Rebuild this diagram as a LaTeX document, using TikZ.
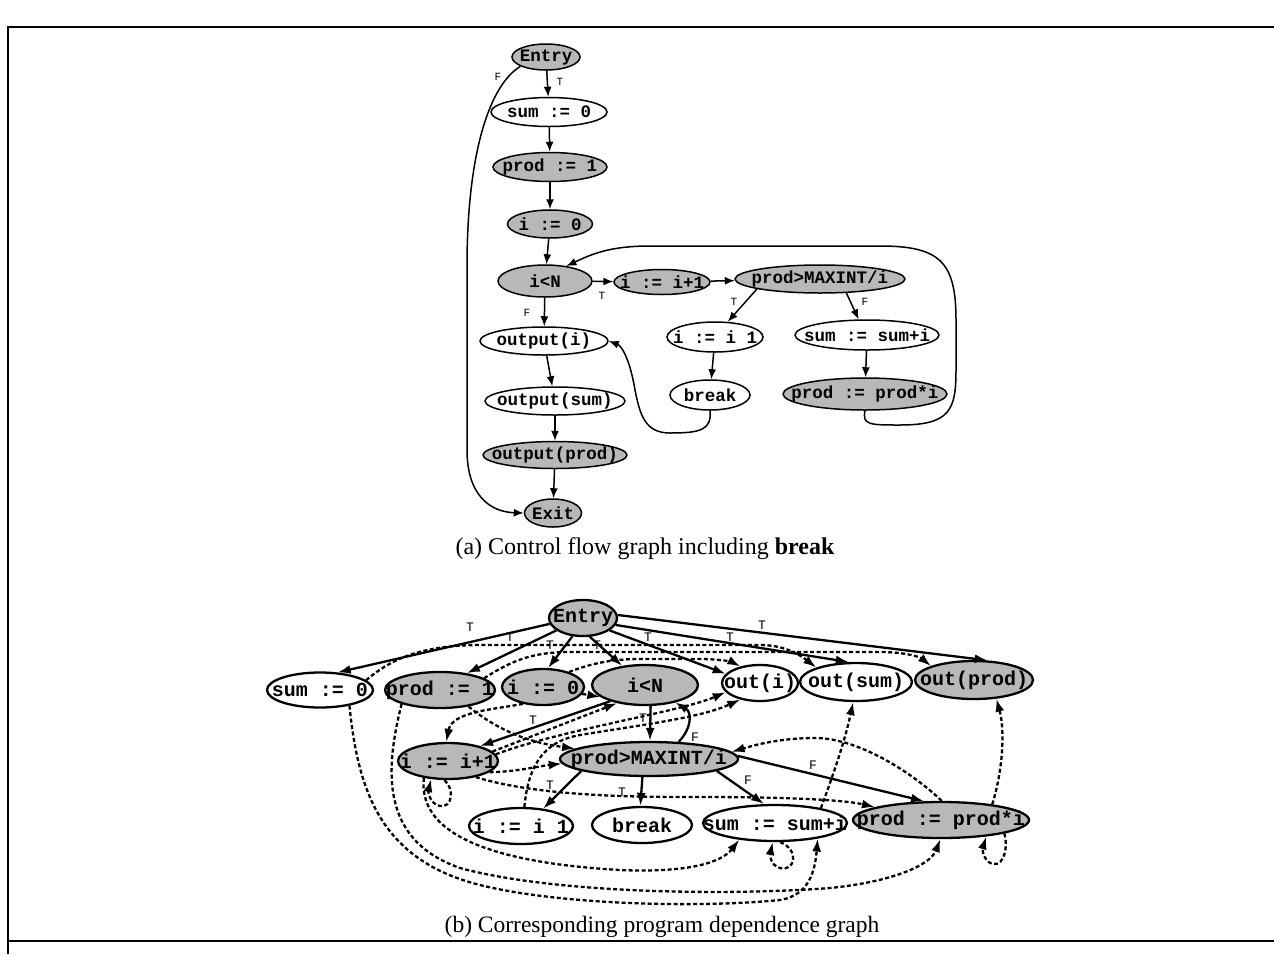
\documentclass[tikz,border=0pt]{standalone}
\usepackage{fontspec}
\setmainfont{Liberation Serif}
\newfontfamily\monofam{Liberation Mono}
\usetikzlibrary{shapes.geometric,arrows.meta}
\newcommand{\ntext}[1]{\makebox[0pt]{#1}}
\begin{document}
\begin{tikzpicture}[x=1pt,y=-1pt,
  anode/.style={ellipse, draw, line width=1.5pt, inner sep=0pt, font=\monofam\bfseries\fontsize{17.5}{20}\selectfont},
  bnode/.style={ellipse, draw, line width=2.3pt, inner sep=0pt, font=\monofam\bfseries\fontsize{20}{24}\selectfont},
  shaded/.style={fill=black!28},
  aedge/.style={line width=1.5pt, -{Latex[length=10pt,width=8pt]}},
  bedge/.style={line width=2.3pt, -{Latex[length=13pt,width=9pt]}},
  bdep/.style={line width=2.3pt, dash pattern=on 4pt off 2.5pt, -{Latex[length=13pt,width=9pt]}},
  alab/.style={font=\monofam\fontsize{11}{12}\selectfont, inner sep=1pt},
  blab/.style={font=\monofam\fontsize{13}{14}\selectfont, inner sep=1pt},
  captext/.style={inner sep=0pt}]
\useasboundingbox (0,0) rectangle (1274,954);
% frame
\draw[line width=2pt] (8,954) -- (8,27) -- (1274,27);
\draw[line width=2pt] (8,941) -- (1274,941);

% ---------------- (a) control flow graph ----------------
\node[anode, shaded, minimum width=68pt, minimum height=26pt] (aentry) at (546,57) {\ntext{Entry}};
\node[anode, minimum width=116pt, minimum height=29pt] (asum) at (549,112) {\ntext{sum := 0}};
\node[anode, shaded, minimum width=114pt, minimum height=29pt] (aprod) at (550,167) {\ntext{prod := 1}};
\node[anode, shaded, minimum width=85pt, minimum height=28pt] (ai0) at (550,224) {\ntext{i := 0}};
\node[anode, shaded, minimum width=94pt, minimum height=32pt] (aiN) at (545,281) {\ntext{i<N}};
\node[anode, shaded, minimum width=96pt, minimum height=25pt] (ainc) at (662,282) {\ntext{i := i+1}};
\node[anode, shaded, minimum width=170pt, minimum height=28pt] (apm) at (820,279) {\ntext{prod>MAXINT/i}};
\node[anode, minimum width=96pt, minimum height=30pt] (aii1) at (715,337) {\ntext{i := i 1}};
\node[anode, minimum width=144pt, minimum height=30pt] (asumi) at (867,335) {\ntext{sum := sum+i}};
\node[anode, minimum width=80pt, minimum height=30pt] (abreak) at (710,395) {\ntext{break}};
\node[anode, shaded, minimum width=164pt, minimum height=32pt] (aprodi) at (865,394) {\ntext{prod := prod*i}};
\node[anode, minimum width=128pt, minimum height=28pt] (aout) at (544,341) {\ntext{output(i)}};
\node[anode, minimum width=140pt, minimum height=28pt] (aoutsum) at (555,401) {\ntext{output(sum)}};
\node[anode, shaded, minimum width=144pt, minimum height=27pt] (aoutprod) at (555,455) {\ntext{output(prod)}};
\node[anode, shaded, minimum width=57pt, minimum height=28pt] (aexit) at (553,513) {\ntext{Exit}};

\draw[aedge] (aentry) -- (asum);
\draw[aedge] (asum) -- (aprod);
\draw[aedge] (aprod) -- (ai0);
\draw[aedge] (ai0) -- (aiN);
\draw[aedge] (aiN) -- (aout);
\draw[aedge] (aiN) -- (ainc);
\draw[aedge] (ainc) -- (apm);
\draw[aedge] (apm.189) -- (aii1.50);
\draw[aedge] (apm.-28) -- (asumi.118);
\draw[aedge] (aii1) -- (abreak);
\draw[aedge] (asumi) -- (aprodi);
\draw[aedge] (aout) -- (aoutsum);
\draw[aedge] (aoutsum) -- (aoutprod);
\draw[aedge] (aoutprod) -- (aexit);
\draw[aedge] (aentry.200) .. controls (490,85) and (468,150) .. (467,260) -- (467,450) .. controls (467,495) and (490,512) .. (aexit.west);
\draw[aedge] (abreak.south) .. controls (712,430) and (700,433) .. (670,433) .. controls (645,433) and (640,415) .. (635,390) .. controls (630,360) and (622,346) .. (aout.east);
\draw[aedge] (aprodi.south) .. controls (862,425) and (870,425) .. (900,425) .. controls (950,425) and (956,410) .. (956,370) -- (956,320) .. controls (956,262) and (940,246) .. (880,246) -- (650,246) .. controls (610,246) and (592,254) .. (aiN.35);

\node[alab] (laT1) at (560,82) {T};
\node[alab] (laF1) at (498,77) {F};
\node[alab] (laT2) at (602,296) {T};
\node[alab] (laF2) at (527,313) {F};
\node[alab] (laT3) at (734,302) {T};
\node[alab] (laF3) at (865,302) {F};

\node[captext, font=\fontsize{24}{28}\selectfont] (capa) at (645,549) {(a) Control flow graph including \textbf{break}};

% ---------------- (b) program dependence graph ----------------
\node[bnode, shaded, minimum width=68pt, minimum height=36pt] (bentry) at (583,618) {\ntext{Entry}};
\node[bnode, minimum width=106pt, minimum height=35pt] (bsum0) at (320,690) {\ntext{sum := 0}};
\node[bnode, shaded, minimum width=110pt, minimum height=36pt] (bprod1) at (440,690) {\ntext{prod := 1}};
\node[bnode, shaded, minimum width=82pt, minimum height=36pt] (bi0) at (543,687) {\ntext{i := 0}};
\node[bnode, shaded, minimum width=106pt, minimum height=40pt] (biN) at (645,685) {\ntext{i<N}};
\node[bnode, minimum width=76pt, minimum height=36pt] (bouti) at (760,683) {\ntext{out(i)}};
\node[bnode, minimum width=112pt, minimum height=38pt] (boutsum) at (856,682) {\ntext{out(sum)}};
\node[bnode, shaded, minimum width=118pt, minimum height=38pt] (boutprod) at (974,680) {\ntext{out(prod)}};
\node[bnode, shaded, minimum width=100pt, minimum height=36pt] (binc) at (448,761) {\ntext{i := i+1}};
\node[bnode, shaded, minimum width=178pt, minimum height=34pt] (bpm) at (649,759) {\ntext{prod>MAXINT/i}};
\node[bnode, minimum width=104pt, minimum height=36pt] (bii1) at (521,826) {\ntext{i := i 1}};
\node[bnode, minimum width=100pt, minimum height=36pt] (bbreak) at (642,825) {\ntext{break}};
\node[bnode, minimum width=144pt, minimum height=36pt] (bsumi) at (775,823) {\ntext{sum := sum+i}};
\node[bnode, shaded, minimum width=176pt, minimum height=36pt] (bprodi) at (941,820) {\ntext{prod := prod*i}};

% control dependences
\draw[bedge] (bentry.190) -- (bsum0.45);
\draw[bedge] (bentry.205) -- (bprod1.32);
\draw[bedge] (bentry.240) -- (bi0.75);
\draw[bedge] (bentry.-70) -- (biN.140);
\draw[bedge] (bentry.-25) -- (bouti.165);
\draw[bedge] (bentry.-12) -- (boutsum.110);
\draw[bedge] (bentry.5) -- (boutprod.55);
\draw[bedge] (biN.205) -- (binc.25);
\draw[bedge] (biN.-75) -- (bpm.87);
\draw[bedge] (bpm.30) .. controls (692,728) and (692,712) .. (biN.-30);
\draw[bedge] (bpm.190) -- (bii1.38);
\draw[bedge] (bpm.-110) -- (bbreak.95);
\draw[bedge] (bpm.-10) -- (bsumi.120);
\draw[bedge] (bpm.2) -- (bprodi.132);

% data dependences
\draw[bdep] (bsum0.12) .. controls (390,660) and (420,645) .. (480,645) -- (760,645) .. controls (785,645) and (800,655) .. (boutsum.160);
\draw[bdep] (bprod1.15) .. controls (510,662) and (530,652) .. (570,652) -- (880,652) .. controls (905,652) and (920,657) .. (boutprod.162);
\draw[bdep] (bi0.30) .. controls (590,664) and (610,659) .. (640,659) -- (700,659) .. controls (720,659) and (732,662) .. (bouti.140);
\draw[bdep] (bi0.-10) -- (biN.195);
\draw[bdep] (bi0.220) .. controls (490,710) and (452,712) .. (binc.95);
\draw[bdep] (binc.12) -- (biN.213);
\draw[bdep] (binc.8) .. controls (560,730) and (680,712) .. (bouti.-165);
\draw[bdep] (bii1.80) .. controls (528,770) and (540,742) .. (580,735) .. controls (640,725) and (700,718) .. (bouti.-140);
\draw[bdep] (binc.-15) .. controls (515,772) and (540,766) .. (bpm.183);
\draw[bdep] (binc.-30) .. controls (540,797) and (640,797) .. (700,797) .. controls (790,797) and (845,800) .. (bprodi.169);
\draw[bdep] (binc.-145) .. controls (418,830) and (480,862) .. (620,870) .. controls (690,873) and (722,862) .. (bsumi.-155);
\draw[bdep] (bsum0.-28) .. controls (358,790) and (380,860) .. (480,885) .. controls (560,905) and (700,908) .. (780,900) .. controls (810,895) and (815,870) .. (bsumi.-20);
\draw[bdep] (bprod1.-160) .. controls (385,770) and (380,840) .. (460,868) .. controls (560,895) and (740,895) .. (830,888) .. controls (890,882) and (930,866) .. (bprodi.-92);
\draw[bdep] (bprod1.-30) .. controls (495,728) and (525,742) .. (bpm.172);
\draw[bdep] (bsumi.18) .. controls (835,770) and (845,740) .. (boutsum.-98);
\draw[bdep] (bprodi.17) .. controls (1003,770) and (1005,730) .. (boutprod.-40);
\draw[bdep] (bprodi.88) .. controls (915,775) and (860,738) .. (815,738) .. controls (780,738) and (755,745) .. (bpm.5);
% self loops
\draw[bdep] (binc.-100) .. controls (455,790) and (452,808) .. (440,806) .. controls (430,804) and (428,792) .. (binc.-133);
\draw[bdep] (bsumi.-75) .. controls (800,850) and (795,872) .. (780,868) .. controls (770,865) and (770,855) .. (bsumi.-97);
\draw[bdep] (bprodi.-12) .. controls (1008,845) and (1005,866) .. (993,864) .. controls (984,862) and (982,850) .. (bprodi.-20);

% labels
\node[blab] (lbT1) at (470,627) {T};
\node[blab] (lbT2) at (510,637) {T};
\node[blab] (lbT3) at (550,645) {T};
\node[blab] (lbT4) at (597,645) {T};
\node[blab] (lbT5) at (648,637) {T};
\node[blab] (lbT6) at (730,637) {T};
\node[blab] (lbT7) at (762,625) {T};
\node[blab] (lbT8) at (533,720) {T};
\node[blab] (lbT9) at (643,718) {T};
\node[blab] (lbF1) at (695,737) {F};
\node[blab] (lbT10) at (550,785) {T};
\node[blab] (lbT11) at (622,792) {T};
\node[blab] (lbF2) at (748,780) {F};
\node[blab] (lbF3) at (813,765) {F};

\node[captext, font=\fontsize{23.5}{28}\selectfont] (capb) at (662,927) {(b) Corresponding program dependence graph};
\end{tikzpicture}
\end{document}
